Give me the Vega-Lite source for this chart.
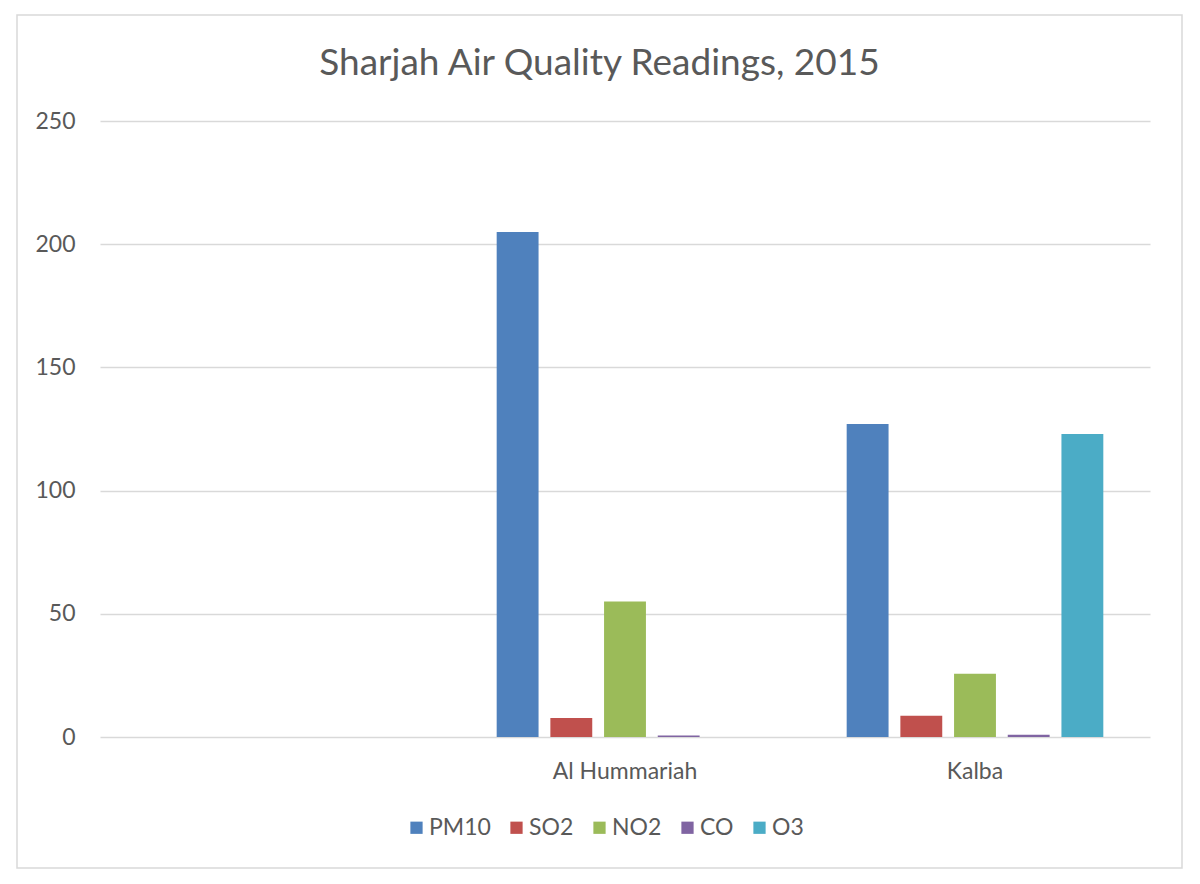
{
  "$schema": "https://vega.github.io/schema/vega-lite/v6.json",
  "width": 1165,
  "height": 853,
  "padding": {"left": 17, "top": 15, "right": 18, "bottom": 16},
  "background": "white",
  "title": {
    "text": "Sharjah Air Quality Readings, 2015",
    "offset": -68,
    "fontSize": 37,
    "font": "Lato",
    "fontWeight": "normal",
    "color": "#595959",
    "anchor": "middle"
  },
  "data": {
    "values": [
      {"site": "Al Hummariah", "pollutant": "PM10", "reading": 205},
      {"site": "Al Hummariah", "pollutant": "SO2", "reading": 7.7},
      {"site": "Al Hummariah", "pollutant": "NO2", "reading": 55},
      {"site": "Al Hummariah", "pollutant": "CO", "reading": 0.6},
      {"site": "Kalba", "pollutant": "PM10", "reading": 127},
      {"site": "Kalba", "pollutant": "SO2", "reading": 8.6},
      {"site": "Kalba", "pollutant": "NO2", "reading": 25.7},
      {"site": "Kalba", "pollutant": "CO", "reading": 0.9},
      {"site": "Kalba", "pollutant": "O3", "reading": 123}
    ]
  },
  "mark": {"type": "bar"},
  "encoding": {
    "x": {
      "field": "site",
      "type": "nominal",
      "title": null,
      "sort": null,
      "scale": {
        "domain": [" ", "Al Hummariah", "Kalba"],
        "range": [83, 1133],
        "paddingInner": 0.233,
        "paddingOuter": 0.1165
      },
      "axis": {
        "orient": "bottom",
        "offset": -97,
        "labelAngle": 0,
        "labelBaseline": "middle",
        "labelPadding": 0,
        "ticks": false,
        "domain": false,
        "grid": false
      }
    },
    "xOffset": {
      "field": "pollutant",
      "type": "nominal",
      "scale": {
        "domain": ["PM10", "SO2", "NO2", "CO", "O3"],
        "paddingInner": 0.22,
        "paddingOuter": 0.11
      }
    },
    "y": {
      "field": "reading",
      "type": "quantitative",
      "title": null,
      "scale": {"domain": [0, 250], "range": [722, 106], "nice": false},
      "axis": {
        "values": [0, 50, 100, 150, 200, 250],
        "orient": "left",
        "offset": -58,
        "labelPadding": 0,
        "ticks": false,
        "domain": false,
        "grid": true,
        "gridColor": "#d9d9d9",
        "gridWidth": 1.5
      }
    },
    "color": {
      "field": "pollutant",
      "type": "nominal",
      "title": null,
      "scale": {
        "domain": ["PM10", "SO2", "NO2", "CO", "O3"],
        "range": ["#4f81bd", "#c0504d", "#9bbb59", "#8064a2", "#4bacc6"]
      },
      "legend": {
        "orient": "none",
        "direction": "horizontal",
        "legendX": 388,
        "legendY": 801,
        "symbolType": "square",
        "symbolSize": 150,
        "symbolStrokeWidth": 0,
        "labelOffset": 1,
        "columnPadding": 14
      }
    }
  },
  "config": {
    "font": "Lato",
    "view": {"stroke": "#d9d9d9", "strokeWidth": 1.5},
    "axis": {
      "labelFont": "Lato",
      "labelFontSize": 23,
      "labelColor": "#595959"
    },
    "legend": {
      "labelFont": "Lato",
      "labelFontSize": 23,
      "labelColor": "#595959"
    }
  }
}
